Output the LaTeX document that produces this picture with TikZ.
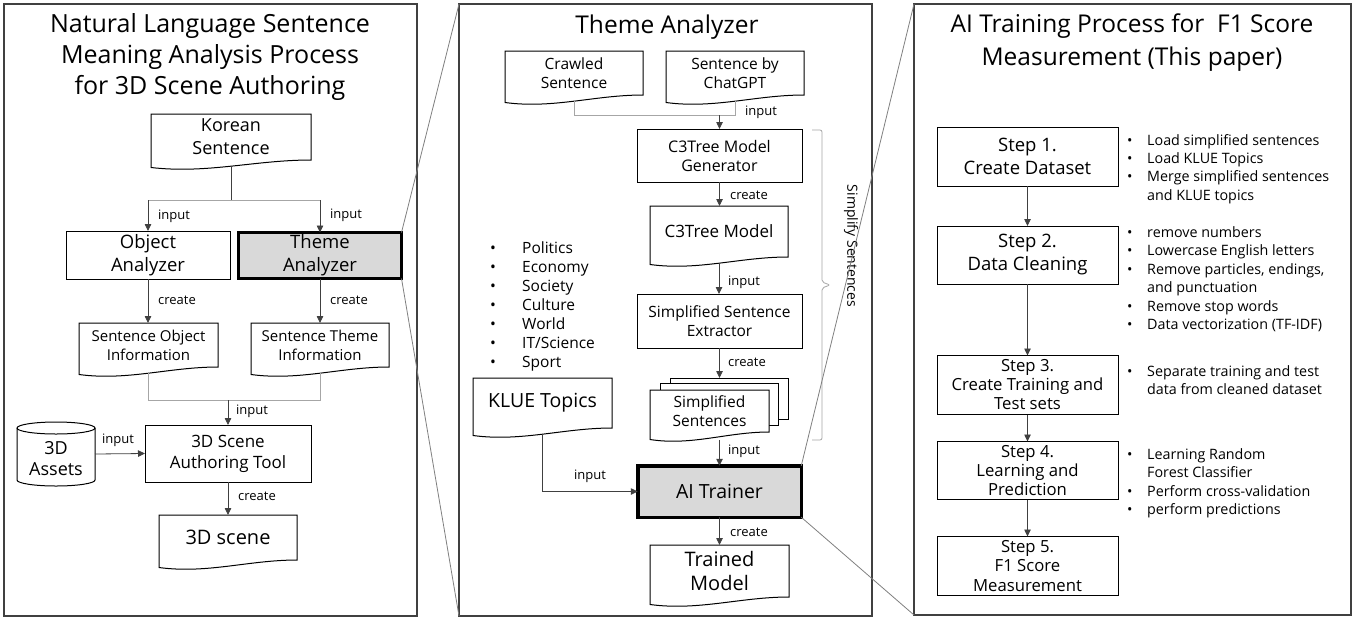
\documentclass[tikz,border=0pt]{standalone}
\usepackage{fontspec}
\setmainfont{Open Sans}
\usetikzlibrary{arrows.meta,calc}
\definecolor{hlgray}{HTML}{D9D9D9}
\definecolor{pnl}{HTML}{404040}
\definecolor{arrc}{HTML}{404040}
\definecolor{mrg}{HTML}{A6A6A6}
\definecolor{zml}{HTML}{808080}
\newcommand\fs[2]{\fontsize{#1}{#2}\selectfont}
\tikzset{
 panel/.style={draw=pnl, line width=1.5pt, inner sep=0, outer sep=0},
 stepbox/.style={draw=black, line width=1pt, fill=white, align=center, inner sep=0, outer sep=0},
 hlbox/.style={stepbox, fill=hlgray, line width=3.5pt},
 docn/.style={inner sep=0, outer sep=0},
 docln/.style={draw=black, line width=1pt, fill=white},
 lbl/.style={anchor=west, inner sep=0, font=\fs{13}{15}},
 arr/.style={draw=arrc, line width=0.8pt, -{Triangle[length=7pt,width=6.5pt]}},
 mline/.style={draw=mrg, line width=0.9pt},
 zline/.style={draw=zml, line width=0.8pt},
 bul/.style={anchor=base west, inner sep=0},
}
% name, x, y, w, h, font, text
\newcommand\docnode[7]{%
 \node[docn, minimum width=#4pt, minimum height=#5pt] (#1) at (#2,#3) {};
 \draw[docln] (#1.north west) -- (#1.north east) -- (#1.south east)
   .. controls ($(#1.south east)!0.35!(#1.south west)$) and ($(#1.south west)!0.35!(#1.south east)+(0,14)$)
   .. ($(#1.south west)+(0,7.5)$) -- cycle;
 \node[inner sep=0, align=center, font=#6] (#1t) at (#1) {#7};
}
\begin{document}
\begin{tikzpicture}[x=1pt,y=-1pt]
\useasboundingbox[fill=white] (0,0) rectangle (1362,619);

% ---------------- panels
\node[panel, minimum width=413pt, minimum height=612pt] (p1) at (210.5,310) {};
\node[panel, minimum width=413pt, minimum height=612pt] (p2) at (665.5,310) {};
\node[panel, minimum width=437pt, minimum height=611pt] (p3) at (1132.5,309.5) {};

% ---------------- left panel
\node[align=center, inner sep=0, font=\fs{25}{31}] (t1) at (210,57.5)
 {Natural Language Sentence\\Meaning Analysis Process\\for 3D Scene Authoring};
\docnode{kor}{231}{137}{160}{46}{\fs{18}{23}}{Korean\\Sentence}
\node[stepbox, minimum width=164pt, minimum height=48pt, font=\fs{18.5}{23}] (obj) at (148,255) {Object\\Analyzer};
\node[hlbox, minimum width=163pt, minimum height=46pt, font=\fs{18.5}{23}] (thm) at (320,255.5) {Theme\\Analyzer};
\docnode{soi}{148.5}{345}{139}{44}{\fs{15}{19}}{Sentence Object\\Information}
\docnode{sti}{320}{345}{138}{44}{\fs{15}{19}}{Sentence Theme\\Information}
\node[stepbox, minimum width=166pt, minimum height=57pt, font=\fs{17}{21}] (tool) at (228,453.5) {3D Scene\\Authoring Tool};
\docnode{scene}{228}{537.5}{138}{45}{\fs{20}{23}}{3D scene}
% cylinder
\node[docn, minimum width=78pt, minimum height=64pt] (assets) at (56,454) {};
\draw[docln] ($(assets.north west)+(0,6)$) -- ($(assets.south west)+(0,-6)$)
  arc[start angle=180, end angle=360, x radius=39pt, y radius=6pt]
  -- ($(assets.north east)+(0,6)$)
  arc[start angle=0, end angle=180, x radius=39pt, y radius=6pt] -- cycle;
\draw[docln, fill=none] ($(assets.north west)+(0,6)$) arc[start angle=180, end angle=360, x radius=39pt, y radius=6pt];
\node[inner sep=0, align=center, font=\fs{18}{21}] (assetst) at (56,458.5) {3D\\Assets};

\coordinate (s1) at (231,200);
\draw[draw=arrc, line width=0.8pt] ($(kor.south)+(0,6)$) -- (s1);
\draw[mline] (obj.north |- s1) -- (thm.north |- s1);
\draw[arr] (obj.north |- s1) -- (obj.north);
\draw[arr] (thm.north |- s1) -- (thm.north);
\node[lbl] (li1) at (158,216) {input};
\node[lbl] (li2) at (330,215) {input};
\draw[arr] (obj.south) -- (obj.south |- soi.north);
\draw[arr] (thm.south) -- (thm.south |- sti.north);
\node[lbl] (lc1) at (158,300) {create};
\node[lbl] (lc2) at (330,300) {create};
\coordinate (m1) at (228,400);
\draw[mline] ($(soi.south)+(0,6)$) -- (soi.south |- m1) -- (sti.south |- m1) -- ($(sti.south)+(0,6)$);
\draw[arr] (m1) -- (tool.north);
\node[lbl] (li3) at (236,411) {input};
\draw[arr] (assets.east) -- (tool.west);
\node[lbl] (li4) at (102,440) {input};
\draw[arr] (tool.south) -- (scene.north);
\node[lbl] (lc3) at (238,496) {create};

% ---------------- middle panel
\node[inner sep=0, font=\fs{24.5}{31}] (t2) at (667,27) {Theme Analyzer};
\docnode{crawl}{574}{73}{138}{44}{\fs{15.5}{19}}{Crawled\\Sentence}
\docnode{chat}{735}{73}{138}{44}{\fs{15.5}{19}}{Sentence by\\ChatGPT}
\node[stepbox, minimum width=165pt, minimum height=53pt, font=\fs{16}{19}] (gen) at (719.5,155.5) {C3Tree Model\\Generator};
\docnode{c3m}{719}{231.5}{138}{51}{\fs{17}{20}}{C3Tree Model}
\node[stepbox, minimum width=165pt, minimum height=54pt, font=\fs{15.5}{19}] (ext) at (719.5,321) {Simplified Sentence\\Extractor};
\node[stepbox, minimum width=118pt, minimum height=41pt] (simp3) at (729,398.5) {};
\node[stepbox, minimum width=118pt, minimum height=42pt] (simp2) at (719,404) {};
\docnode{simp}{709.5}{411}{119}{42}{\fs{15.5}{19}}{Simplified\\Sentences}
\node[hlbox, minimum width=163.5pt, minimum height=51.5pt, font=\fs{19.5}{22}] (ai) at (719.5,491.5) {AI Trainer};
\docnode{trained}{719.5}{571}{139}{52}{\fs{20}{24}}{Trained\\Model}
\docnode{klue}{542.5}{403}{139}{50}{\fs{19.5}{22}}{KLUE Topics}

\coordinate (m2) at (719.5,115);
\draw[mline] ($(crawl.south)+(0,6)$) -- (crawl.south |- m2) -- (chat.south |- m2) -- ($(chat.south)+(0,6)$);
\draw[arr] (m2) -- (gen.north);
\node[lbl] (li5) at (745,112) {input};
\draw[arr] (gen.south) -- (gen.south |- c3m.north);
\node[lbl] (lc4) at (730,195) {create};
\draw[arr] ($(c3m.south)+(0,6)$) -- (c3m.south |- ext.north);
\node[lbl] (li6) at (728,282) {input};
\draw[arr] (ext.south) -- (ext.south |- simp3.north);
\node[lbl] (lc5) at (728,362) {create};
\draw[arr] ($(ai.north |- simp.south)+(0,8)$) -- (ai.north);
\node[lbl] (li7) at (728,451) {input};
\draw[arr] (ai.south) -- (ai.south |- trained.north);
\node[lbl] (lc6) at (730,532) {create};
\draw[arr] ($(klue.south)+(0,6)$) -- (klue.south |- ai.west) -- (ai.west);
\node[lbl] (li8) at (574,476) {input};

\node[bul, font=\fs{15.5}{19}] (topics) at (490,253) {\begin{tabular}[t]{@{}l@{}}
\makebox[32pt][l]{•}Politics\\
\makebox[32pt][l]{•}Economy\\
\makebox[32pt][l]{•}Society\\
\makebox[32pt][l]{•}Culture\\
\makebox[32pt][l]{•}World\\
\makebox[32pt][l]{•}IT/Science\\
\makebox[32pt][l]{•}Sport
\end{tabular}};

\draw[mline, line width=0.8pt, rounded corners=2pt] (812,130) -| (822,282) -- (830,285) -- (822,288) |- (812,440);
\node[inner sep=0, rotate=-90, font=\fs{14}{15}] (simpl) at (851,246) {Simplify Sentences};

% ---------------- right panel
\node[align=center, inner sep=0, font=\fs{24.5}{33}] (t3) at (1132,43)
 {AI Training Process for \ F1 Score\\Measurement (This paper)};
\node[stepbox, minimum width=181pt, minimum height=59pt, font=\fs{18.5}{23}] (st1) at (1027.5,156.5) {Step 1.\\Create Dataset};
\node[stepbox, minimum width=181pt, minimum height=58pt, font=\fs{18.5}{23}] (st2) at (1027.5,255) {Step 2.\\Data Cleaning};
\node[stepbox, minimum width=181pt, minimum height=59pt, font=\fs{16.7}{19}] (st3) at (1027.5,385) {Step 3.\\Create Training and\\Test sets};
\node[stepbox, minimum width=181pt, minimum height=58pt, font=\fs{16.7}{19}] (st4) at (1027.5,470.5) {Step 4.\\Learning and\\Prediction};
\node[stepbox, minimum width=181pt, minimum height=59pt, font=\fs{16.7}{19.5}] (st5) at (1027.5,566) {Step 5.\\F1 Score\\Measurement};
\draw[arr] (st1.south) -- (st2.north);
\draw[arr] (st2.south) -- (st3.north);
\draw[arr] (st3.south) -- (st4.north);
\draw[arr] (st4.south) -- (st5.north);

\node[bul, font=\fs{14.3}{18.2}] (bl1) at (1127,145.5) {\begin{tabular}[t]{@{}l@{}}
\makebox[20pt][l]{•}Load simplified sentences\\
\makebox[20pt][l]{•}Load KLUE Topics\\
\makebox[20pt][l]{•}Merge simplified sentences\\
\makebox[20pt][l]{}and KLUE topics
\end{tabular}};
\node[bul, font=\fs{14.3}{18.4}] (bl2) at (1127,237.5) {\begin{tabular}[t]{@{}l@{}}
\makebox[20pt][l]{•}remove numbers\\
\makebox[20pt][l]{•}Lowercase English letters\\
\makebox[20pt][l]{•}Remove particles, endings,\\
\makebox[20pt][l]{}and punctuation\\
\makebox[20pt][l]{•}Remove stop words\\
\makebox[20pt][l]{•}Data vectorization (TF-IDF)
\end{tabular}};
\node[bul, font=\fs{14.3}{18.2}] (bl3) at (1127,376.5) {\begin{tabular}[t]{@{}l@{}}
\makebox[20pt][l]{•}Separate training and test\\
\makebox[20pt][l]{}data from cleaned dataset
\end{tabular}};
\node[bul, font=\fs{14.3}{18.3}] (bl4) at (1127,459.5) {\begin{tabular}[t]{@{}l@{}}
\makebox[20pt][l]{•}Learning Random\\
\makebox[20pt][l]{}Forest Classifier\\
\makebox[20pt][l]{•}Perform cross-validation\\
\makebox[20pt][l]{•}perform predictions
\end{tabular}};

% ---------------- zoom lines
\draw[zline] (thm.north east) -- (p2.north west);
\draw[zline] (thm.south east) -- (p2.south west);
\draw[zline] (ai.north east) -- (p3.north west);
\draw[zline] (ai.south east) -- (p3.south west);
\end{tikzpicture}
\end{document}
